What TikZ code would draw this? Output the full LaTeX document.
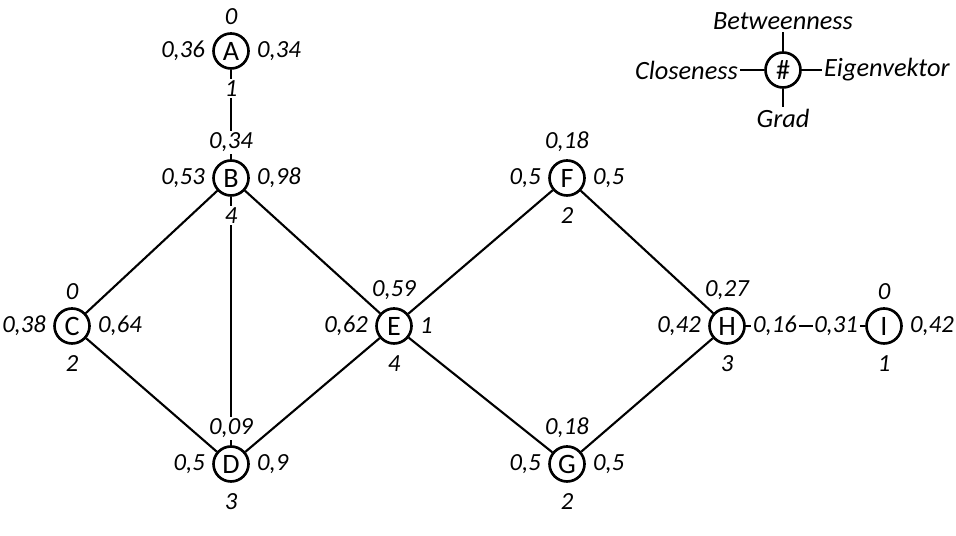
\documentclass[tikz,border=0pt]{standalone}
\usepackage{fontspec}
\setmainfont{Carlito}
\usetikzlibrary{backgrounds}

\begin{document}
\begin{tikzpicture}[
    vertex/.style={circle, draw, line width=1.5pt, minimum size=0.70cm, inner sep=0pt, fill=white, font=\fontsize{16}{18}\selectfont},
    val/.style={font=\fontsize{14}{16}\selectfont\itshape, fill=white, inner sep=1pt, label distance=3pt},
    valb/.style={val, label distance=5pt},
    legtxt/.style={font=\fontsize{15}{17}\selectfont\itshape, inner sep=1pt},
    edge/.style={line width=1.2pt}
]
    \useasboundingbox (0,0) rectangle (19.12,10.72);

    % vertices: top = betweenness, left = closeness, right = eigenvector, below = degree
    \node[vertex, label={[val]above:0},    label={[val]left:0,36}, label={[val]right:0,34}, label={[valb]below:1}] (A) at (4.62,9.70) {A};
    \node[vertex, label={[val]above:0,34}, label={[val]left:0,53}, label={[val]right:0,98}, label={[valb]below:4}] (B) at (4.62,7.16) {B};
    \node[vertex, label={[val]above:0},    label={[val]left:0,38}, label={[val]right:0,64}, label={[valb]below:2}] (C) at (1.44,4.20) {C};
    \node[vertex, label={[val]above:0,09}, label={[val]left:0,5},  label={[val]right:0,9},  label={[valb]below:3}] (D) at (4.62,1.44) {D};
    \node[vertex, label={[val]above:0,59}, label={[val]left:0,62}, label={[val]right:1},    label={[valb]below:4}] (E) at (7.88,4.20) {E};
    \node[vertex, label={[val]above:0,18}, label={[val]left:0,5},  label={[val]right:0,5},  label={[valb]below:2}] (F) at (11.34,7.16) {F};
    \node[vertex, label={[val]above:0,18}, label={[val]left:0,5},  label={[val]right:0,5},  label={[valb]below:2}] (G) at (11.34,1.44) {G};
    \node[vertex, label={[val]above:0,27}, label={[val]left:0,42}, label={[val]right:0,16}, label={[valb]below:3}] (H) at (14.54,4.20) {H};
    \node[vertex, label={[val]above:0},    label={[val]left:0,31}, label={[val]right:0,42}, label={[valb]below:1}] (I) at (17.68,4.20) {I};

    \begin{scope}[on background layer]
        \draw[edge] (A) -- (B);
        \draw[edge] (B) -- (C);
        \draw[edge] (B) -- (D);
        \draw[edge] (B) -- (E);
        \draw[edge] (C) -- (D);
        \draw[edge] (D) -- (E);
        \draw[edge] (E) -- (F);
        \draw[edge] (E) -- (G);
        \draw[edge] (F) -- (H);
        \draw[edge] (G) -- (H);
        \draw[edge] (H) -- (I);
    \end{scope}

    % legend
    \node[vertex] (key) at (15.66,9.32) {\#};
    \node[legtxt, anchor=south] (bw) at (15.66,10.08) {Betweenness};
    \node[legtxt, anchor=north] (gr) at (15.66,8.58) {Grad};
    \node[legtxt, anchor=east]  (cl) at (14.80,9.32) {Closeness};
    \node[legtxt, anchor=west]  (ev) at (16.44,9.32) {Eigenvektor};
    \draw[edge] (key) -- (bw);
    \draw[edge] (key) -- (gr);
    \draw[edge] (key) -- (cl);
    \draw[edge] (key) -- (ev);
\end{tikzpicture}
\end{document}
